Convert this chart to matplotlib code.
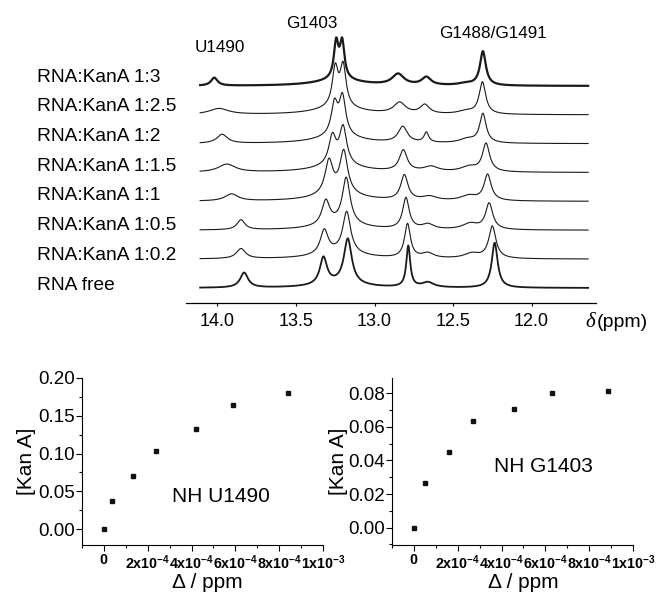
import matplotlib
matplotlib.use("Agg")
import matplotlib.pyplot as plt
import numpy as np
from matplotlib.ticker import FixedLocator, MultipleLocator, FuncFormatter

plt.rcParams['font.family'] = ['Liberation Sans', 'DejaVu Sans']
plt.rcParams['mathtext.fontset'] = 'custom'
plt.rcParams['mathtext.rm'] = 'Liberation Sans'
plt.rcParams['mathtext.bf'] = 'Liberation Sans:bold'
plt.rcParams['mathtext.it'] = 'Liberation Sans:italic'

W, H = 656, 596

# ---- spectra: peak tables, order RNA free -> 1:3 ----
spec_labels = ['RNA free', 'RNA:KanA 1:0.2', 'RNA:KanA 1:0.5', 'RNA:KanA 1:1',
               'RNA:KanA 1:1.5', 'RNA:KanA 1:2', 'RNA:KanA 1:2.5', 'RNA:KanA 1:3']

u1490_pos = [13.83, 13.85, 13.85, 13.91, 13.94, 13.97, 13.99, 14.02]
u1490_h = [15, 10, 10, 7, 8, 9, 6, 8]
u1490_w = [0.06, 0.07, 0.06, 0.1, 0.13, 0.08, 0.15, 0.05]

g1403a_pos = [13.325, 13.32, 13.31, 13.29, 13.268, 13.255, 13.25, 13.244]
g1403a_h = [27, 24, 24, 33, 28, 31, 38, 36]
g1403a_w = [0.055, 0.06, 0.06, 0.06, 0.055, 0.05, 0.045, 0.035]

g1403b_pos = [13.17, 13.177, 13.18, 13.196, 13.20, 13.204, 13.20, 13.206]
g1403b_h = [45, 41, 46, 42, 37, 38, 40, 36]
g1403b_w = [0.06, 0.06, 0.06, 0.06, 0.055, 0.05, 0.045, 0.035]

p1280_pos = [12.785, 12.79, 12.80, 12.81, 12.817, 12.82, 12.84, 12.85]
p1280_h = [41, 34, 31, 25, 21, 16, 11, 11]
p1280_w = [0.03, 0.045, 0.05, 0.055, 0.06, 0.07, 0.09, 0.09]

p1266_pos = [12.66, 12.66, 12.66, 12.65, 12.64, 12.67, 12.68, 12.67]
p1266_h = [5, 5, 5, 4, 5, 10, 9, 8]
p1266_w = [0.09, 0.09, 0.09, 0.11, 0.11, 0.035, 0.07, 0.07]

g1488_pos = [12.235, 12.25, 12.27, 12.28, 12.29, 12.31, 12.313, 12.31]
g1488_h = [45, 32, 26, 26, 28, 29, 32, 34]
g1488_w = [0.045, 0.055, 0.055, 0.055, 0.055, 0.05, 0.05, 0.045]

shoulder_pos = [12.38, 12.38, 12.39, 12.40, 12.40, 12.41, 12.42, 12.42]
shoulder_h = [0, 5, 6, 5, 5, 4, 3, 2]

base_pos = [13.22, 13.22, 13.22, 13.23, 13.23, 13.23, 13.23, 13.23]
base_h = [4, 6, 6, 7, 7, 7, 7, 6]

peak_labels = ['U1490', 'G1403', 'G1488/G1491']

# ---- titration data ----
u1490_dppm = [0.0, 0.37e-4, 1.35e-4, 2.38e-4, 4.2e-4, 5.9e-4, 8.4e-4]
u1490_kan = [0.0, 0.0368, 0.070, 0.103, 0.133, 0.1646, 0.180]
g1403_dppm = [0.0, 0.5e-4, 1.58e-4, 2.71e-4, 4.56e-4, 6.3e-4, 8.88e-4]
g1403_kan = [0.0, 0.0268, 0.0449, 0.0633, 0.0707, 0.080, 0.0814]


def lor(x, x0, h, w):
    return h / (1 + ((x - x0) / (w / 2)) ** 2)


def px_axes(l, t, r, b):
    return [l / W, 1 - b / H, (r - l) / W, (b - t) / H]


fig = plt.figure(figsize=(W / 100, H / 100), dpi=100)

# ---- top spectra panel ----
ax = fig.add_axes(px_axes(186, 0, 596, 303))
ppm = np.linspace(14.11, 11.64, 1500)
step = 28.86
for i, lab in enumerate(spec_labels):
    y = (lor(ppm, u1490_pos[i], u1490_h[i], u1490_w[i])
         + lor(ppm, g1403a_pos[i], g1403a_h[i], g1403a_w[i])
         + lor(ppm, g1403b_pos[i], g1403b_h[i], g1403b_w[i])
         + lor(ppm, p1280_pos[i], p1280_h[i], p1280_w[i])
         + lor(ppm, p1266_pos[i], p1266_h[i], p1266_w[i])
         + lor(ppm, g1488_pos[i], g1488_h[i], g1488_w[i])
         + lor(ppm, shoulder_pos[i], shoulder_h[i], 0.12)
         + lor(ppm, base_pos[i], base_h[i], 0.35))
    lw = 1.6 if i == len(spec_labels) - 1 else (1.3 if i == 0 else 0.8)
    ax.plot(ppm, y + 15 + i * step, color='#1a1a1a', lw=lw)
    fig.text(37 / W, 1 - (285 - i * 29.7) / H, lab, fontsize=13.8,
             ha='left', va='center')

ax.set_xlim(14.2, 11.59)
ax.set_ylim(0, 303)
for s in ['top', 'left', 'right']:
    ax.spines[s].set_visible(False)
ax.spines['bottom'].set_linewidth(0.9)
ax.set_yticks([])
ax.set_xticks([14.0, 13.5, 13.0, 12.5, 12.0])
ax.set_xticklabels(['14.0', '13.5', '13.0', '12.5', '12.0'])
ax.tick_params(axis='x', direction='out', length=2.5, width=0.8,
               labelsize=13, pad=5)

fig.text(220 / W, 1 - 47 / H, peak_labels[0], fontsize=12.3, ha='center', va='center')
fig.text(312 / W, 1 - 23 / H, peak_labels[1], fontsize=12.3, ha='center', va='center')
fig.text(493 / W, 1 - 33 / H, peak_labels[2], fontsize=12.3, ha='center', va='center')
fig.text(595 / W, 1 - 322 / H, 'δ', fontsize=15, family='Liberation Serif',
         style='italic', ha='right', va='center')
fig.text(597 / W, 1 - 322 / H, '(ppm)', fontsize=14, ha='left', va='center')


# ---- bottom titration panels ----
def xfmt(v, pos):
    if abs(v) < 1e-12:
        return r'$\mathbf{0}$'
    if abs(v - 1e-3) < 1e-9:
        return r'$\mathbf{1x10^{-3}}$'
    return r'$\mathbf{%dx10^{-4}}$' % round(v * 1e4)


def titration(rect, xs, ys, ylim, ymaj, ymin, yfmt, note, note_xy, ylab_x, xlab_x):
    a = fig.add_axes(px_axes(*rect))
    a.plot(xs, ys, 's', color='#111111', ms=2.6)
    a.set_xlim(-1.0e-4, 1.0e-3)
    a.set_ylim(*ylim)
    a.spines['top'].set_visible(False)
    a.spines['right'].set_visible(False)
    a.xaxis.set_major_locator(FixedLocator([0, 2e-4, 4e-4, 6e-4, 8e-4, 1e-3]))
    a.xaxis.set_minor_locator(FixedLocator([-1e-4, 1e-4, 3e-4, 5e-4, 7e-4, 9e-4]))
    a.xaxis.set_major_formatter(FuncFormatter(xfmt))
    a.yaxis.set_major_locator(MultipleLocator(ymaj))
    a.yaxis.set_minor_locator(MultipleLocator(ymin))
    a.yaxis.set_major_formatter(FuncFormatter(lambda v, p: yfmt % v))
    a.tick_params(axis='both', which='major', direction='out', length=4, width=0.8)
    a.tick_params(axis='both', which='minor', direction='out', length=2.5, width=0.8)
    a.tick_params(axis='x', labelsize=10.3, pad=2)
    a.tick_params(axis='y', labelsize=13.5, pad=1)
    fig.text(note_xy[0] / W, 1 - note_xy[1] / H, note, fontsize=15,
             ha='center', va='center')
    fig.text(ylab_x / W, 1 - 461 / H, '[Kan A]', fontsize=15, rotation=90,
             ha='center', va='center')
    fig.text(xlab_x / W, 1 - 583 / H, 'Δ / ppm', fontsize=15,
             ha='center', va='center')
    return a


titration((82, 378, 323, 545), u1490_dppm, u1490_kan, (-0.021, 0.20), 0.05, 0.025,
          '%.2f', 'NH U1490', (221, 497), 27, 207)
titration((392, 378, 633, 545), g1403_dppm, g1403_kan, (-0.0103, 0.089), 0.02, 0.01,
          '%.2f', 'NH G1403', (543, 467), 338, 523)

fig.savefig('out.png', dpi=100)
